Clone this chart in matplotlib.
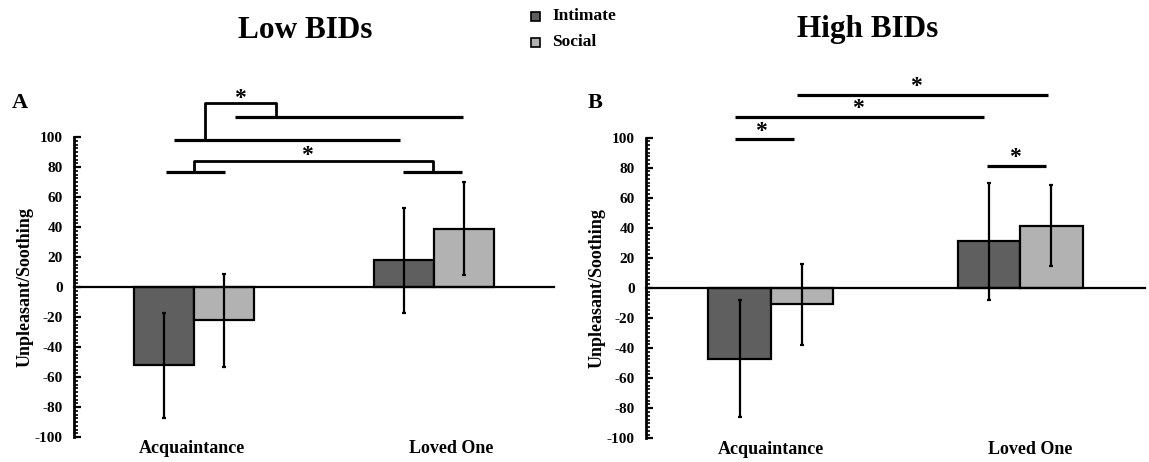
import matplotlib
matplotlib.use("Agg")
import matplotlib.pyplot as plt
from matplotlib.ticker import MultipleLocator
from matplotlib.patches import Rectangle

plt.rcParams['font.family'] = ['Liberation Serif', 'DejaVu Serif']
plt.rcParams['font.weight'] = 'bold'
plt.rcParams['axes.unicode_minus'] = False

categories = ["Acquaintance", "Loved One"]
series = ["Intimate", "Social"]
colors = ["#5f5f5f", "#b2b2b2"]

# Low BIDs (panel A)
low_intimate = [-52, 18]
low_social = [-22, 39]
low_intimate_err = [35, 35]
low_social_err = [31, 31]

# High BIDs (panel B)
high_intimate = [-47, 31]
high_social = [-11, 41.5]
high_intimate_err = [39, 39]
high_social_err = [27, 27]

W = 0.25

fig = plt.figure(figsize=(11.49, 4.62), dpi=100)
axA = fig.add_axes([74 / 1149, 0.0541, 480 / 1149, 0.649])
axB = fig.add_axes([646 / 1149, 0.0513, 499 / 1149, 0.651])


def draw(ax, inter, soc, ierr, serr, label_pos):
    xs = [0, 1]
    ax.bar([x - W / 2 for x in xs], inter, W, color=colors[0], edgecolor='black', lw=1.6, zorder=2)
    ax.bar([x + W / 2 for x in xs], soc, W, color=colors[1], edgecolor='black', lw=1.6, zorder=2)
    ax.errorbar([x - W / 2 for x in xs], inter, yerr=ierr, fmt='none', ecolor='black',
                elinewidth=1.6, capsize=1.5, capthick=1.6, zorder=3)
    ax.errorbar([x + W / 2 for x in xs], soc, yerr=serr, fmt='none', ecolor='black',
                elinewidth=1.6, capsize=1.5, capthick=1.6, zorder=3)
    ax.set_xlim(-0.5, 1.5)
    ax.set_ylim(-100, 100)
    for s in ['top', 'right']:
        ax.spines[s].set_visible(False)
    ax.spines['bottom'].set_position(('data', 0))
    ax.spines['bottom'].set_linewidth(1.6)
    ax.spines['left'].set_linewidth(2.0)
    ax.set_xticks([])
    ax.yaxis.set_major_locator(MultipleLocator(20))
    ax.yaxis.set_minor_locator(MultipleLocator(2.5))
    ax.tick_params(axis='y', which='major', direction='in', length=5, width=1.6, labelsize=11, pad=8)
    ax.tick_params(axis='y', which='minor', direction='in', length=3, width=1.2)
    for lab in ax.get_yticklabels():
        lab.set_fontweight('bold')
    ax.set_ylabel("Unpleasant/Soothing", fontsize=13, fontweight='bold', labelpad=1)
    for x, c in zip(label_pos, categories):
        ax.text(x, -102, c, ha='center', va='top', fontsize=13, fontweight='bold')


def hline(ax, x0, x1, y):
    ax.plot([x0, x1], [y, y], color='black', lw=2.3, clip_on=False, solid_capstyle='butt')


def star(ax, x, y):
    ax.text(x, y, "*", ha='center', va='center', fontsize=17, fontweight='bold', clip_on=False)


draw(axA, low_intimate, low_social, low_intimate_err, low_social_err, [-0.01, 1.07])
draw(axB, high_intimate, high_social, high_intimate_err, high_social_err, [0.0, 1.04])

# Panel A significance brackets
ia, sa, il, sl = -W / 2, W / 2, 1 - W / 2, 1 + W / 2
hline(axA, ia + 0.01, sa + 0.005, 76.7)
hline(axA, il - 0.005, sl - 0.01, 76.7)
axA.plot([0, 0, 0.995, 0.995], [76.7, 84, 84, 76.7], color='black', lw=2.0, clip_on=False)
star(axA, 0.47, 88)
hline(axA, ia + 0.04, il - 0.015, 98.4)
hline(axA, sa + 0.045, sl - 0.005, 113.3)
axA.plot([0.045, 0.045, 0.343, 0.343], [98.4, 122.7, 122.7, 113.3], color='black', lw=2.0, clip_on=False)
star(axA, 0.19, 126)

# Panel B significance brackets
hline(axB, ia - 0.02, sa - 0.03, 99)
star(axB, -0.04, 104)
hline(axB, ia - 0.02, il - 0.02, 113.5)
star(axB, 0.35, 119)
hline(axB, sa - 0.02, sl - 0.015, 128.6)
star(axB, 0.58, 134)
hline(axB, il - 0.01, sl - 0.02, 81.4)
star(axB, 0.98, 87)

# Panel labels
fig.text(12 / 1149, 1 - 103 / 462, "A", fontsize=16, fontweight='bold', va='center', ha='left')
fig.text(588 / 1149, 1 - 103 / 462, "B", fontsize=16, fontweight='bold', va='center', ha='left')

# Titles
fig.text(305 / 1149, 1 - 30 / 462, "Low BIDs", fontsize=22.5, fontweight='bold', ha='center', va='center')
fig.text(868 / 1149, 1 - 30 / 462, "High BIDs", fontsize=22.5, fontweight='bold', ha='center', va='center')

# Legend
for i, (name, col) in enumerate(zip(series, colors)):
    yc = 16 + i * 26
    fig.patches.append(Rectangle((531 / 1149, 1 - (yc + 4.5) / 462), 9 / 1149, 9 / 462,
                                 transform=fig.transFigure, facecolor=col, edgecolor='black', lw=1.2))
    fig.text(552 / 1149, 1 - yc / 462, name, fontsize=12.5, fontweight='bold', ha='left', va='center')

fig.savefig("out.png", dpi=100)
